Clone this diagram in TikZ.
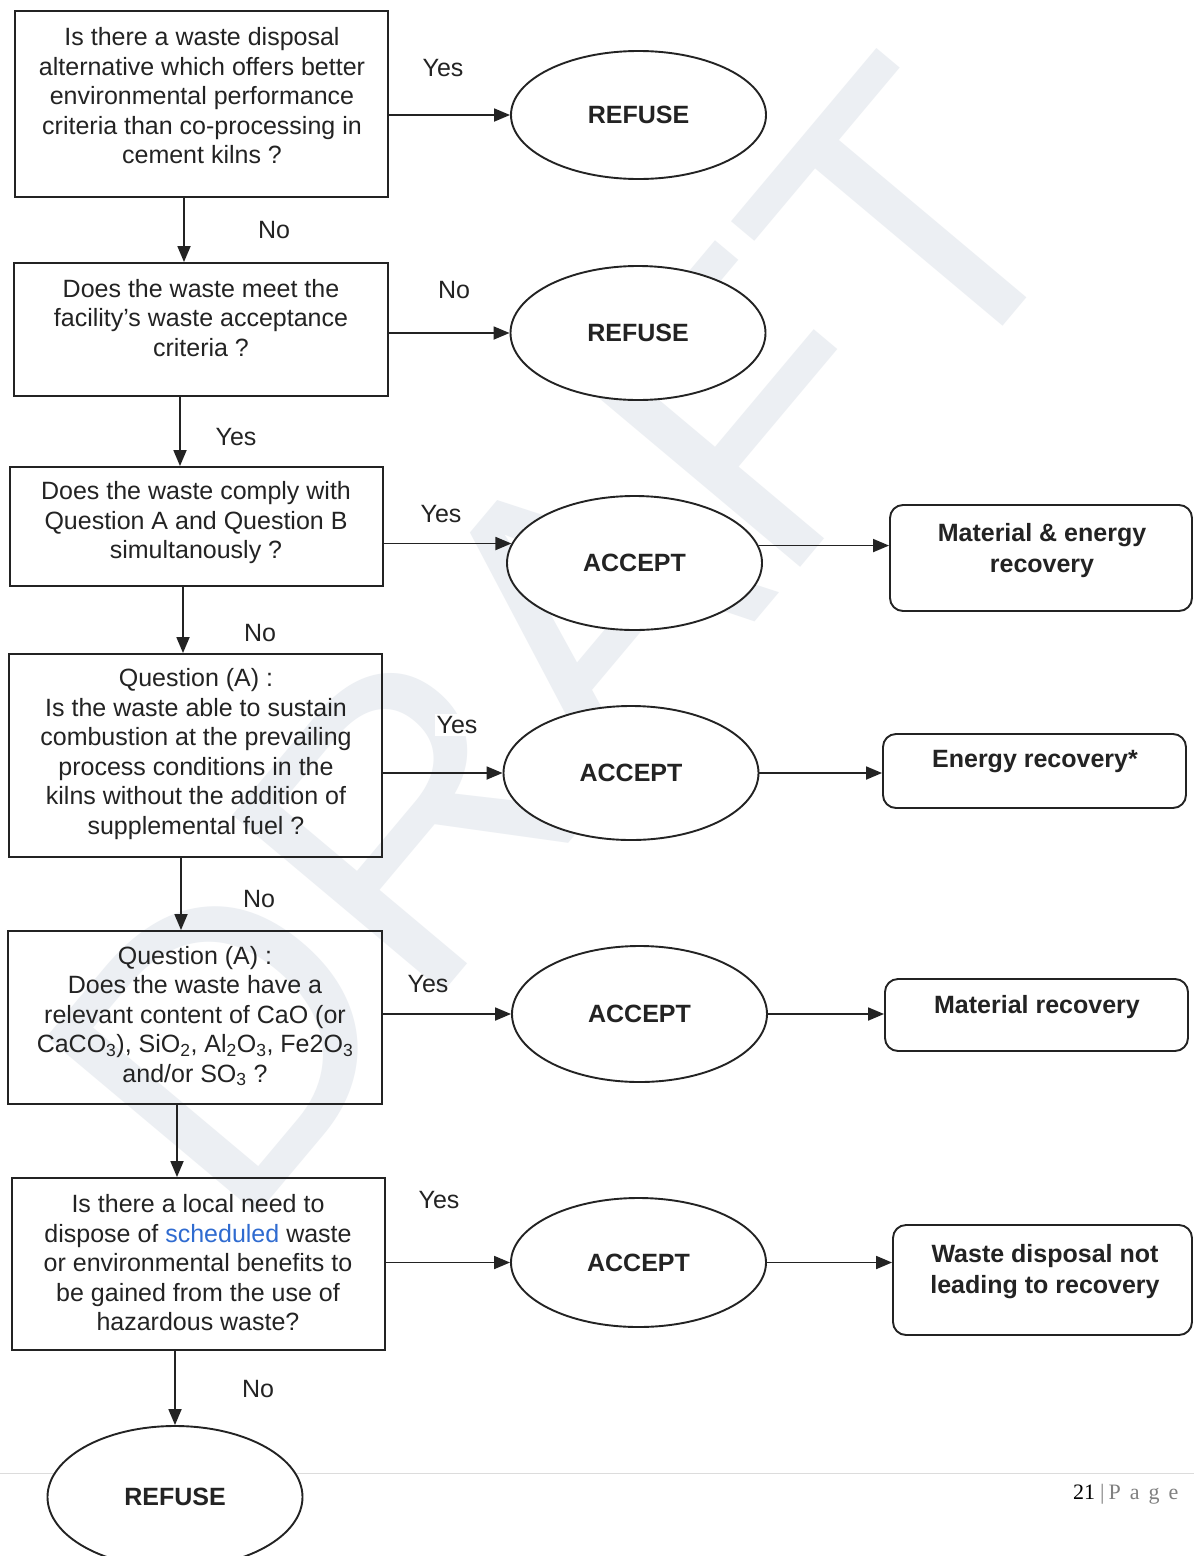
\documentclass[tikz,border=0pt]{standalone}
\usepackage{fontspec}
\setmainfont{Liberation Sans}
\newfontfamily\footfont{Liberation Serif}
\usetikzlibrary{shapes.geometric,arrows.meta,calc}
\definecolor{ink}{HTML}{232323}
\definecolor{linkblue}{HTML}{2F6BD0}
\definecolor{wm}{HTML}{ECEFF3}
\definecolor{footgray}{HTML}{808080}
\definecolor{footline}{HTML}{DCDCDC}
\begin{document}
\begin{tikzpicture}[x=1pt,y=-1pt,
  qbox/.style={draw=ink, line width=1.9pt, rectangle, inner sep=0pt},
  qtext/.style={align=center, text=ink, font=\fontsize{25}{29.5}\selectfont, inner sep=0pt},
  oval/.style={draw=ink, line width=1.9pt, ellipse, fill=white, minimum width=255pt, minimum height=132pt, inner sep=0pt, font=\fontsize{25}{30}\selectfont\bfseries, text=ink},
  outbox/.style={draw=ink, line width=1.9pt, rounded corners=13pt, rectangle, inner sep=0pt},
  outtext/.style={align=center, text=ink, font=\fontsize{25}{31}\selectfont\bfseries, inner sep=0pt},
  lbl/.style={text=ink, font=\fontsize{25}{30}\selectfont, inner sep=2pt},
  arr/.style={draw=ink, line width=1.8pt, -{Triangle[length=16pt,width=13pt]}},
]
\useasboundingbox (0,0) rectangle (1194,1556);
\fill[white] (0,0) rectangle (1194,1556);

% watermark
\node[rotate=50, text=wm, font=\fontsize{400}{400}\selectfont, inner sep=0pt] (wmk) at (560,640) {DRAFT};

% footer
\draw[footline, line width=1pt] (0,1473) -- (1194,1473);
\node[anchor=base west, inner sep=0pt, font=\footfont\fontsize{22}{24}\selectfont] (pg) at (1073,1499)
  {21\hspace{5pt}\textcolor{footgray}{|\hspace{4pt}P\hspace{9pt}a\hspace{9pt}g\hspace{9pt}e}};

% question boxes
\node[qbox, minimum width=373pt, minimum height=186pt] (b1) at (201.5,104) {};
\node[qtext] (b1t) at (202,96) {Is there a waste disposal\\alternative which offers better\\environmental performance\\criteria than co-processing in\\cement kilns ?};

\node[qbox, minimum width=374pt, minimum height=133pt] (b2) at (201,329.5) {};
\node[qtext] (b2t) at (201,318) {Does the waste meet the\\facility’s waste acceptance\\criteria ?};

\node[qbox, minimum width=373pt, minimum height=119pt] (b3) at (196.5,526.5) {};
\node[qtext] (b3t) at (196,523) {Does the waste comply with\\Question A and Question B\\simultanously ?};

\node[qbox, minimum width=373pt, minimum height=203pt] (b4) at (195.5,755.5) {};
\node[qtext] (b4t) at (196,754) {Question (A) :\\Is the waste able to sustain\\combustion at the prevailing\\process conditions in the\\kilns without the addition of\\supplemental fuel ?};

\node[qbox, minimum width=374pt, minimum height=173pt] (b5) at (195,1017.5) {};
\node[qtext] (b5t) at (195,1016) {Question (A) :\\Does the waste have a\\relevant content of CaO (or\\CaCO\textsubscript{3}), SiO\textsubscript{2}, Al\textsubscript{2}O\textsubscript{3}, Fe2O\textsubscript{3}\\and/or SO\textsubscript{3} ?};

\node[qbox, minimum width=373pt, minimum height=172pt] (b6) at (198.5,1264) {};
\node[qtext] (b6t) at (198,1263) {Is there a local need to\\dispose of \textcolor{linkblue}{scheduled} waste\\or environmental benefits to\\be gained from the use of\\hazardous waste?};

% ellipses
\node[oval, minimum height=128pt] (e1) at (638.5,115) {REFUSE};
\node[oval, minimum height=134pt] (e2) at (638,333) {REFUSE};
\node[oval, minimum height=134pt] (e3) at (634.5,563) {ACCEPT};
\node[oval, minimum height=134pt] (e4) at (631,773) {ACCEPT};
\node[oval, minimum height=136pt] (e5) at (639.5,1014) {ACCEPT};
\node[oval, minimum height=129pt] (e6) at (638.5,1262.5) {ACCEPT};
\node[oval, minimum height=142pt] (e7) at (175,1497) {REFUSE};

% outcome boxes
\node[outbox, minimum width=302pt, minimum height=106pt] (r1) at (1041,558) {};
\node[outtext] (r1t) at (1042,550.5) {Material \& energy\\recovery};
\node[outbox, minimum width=303pt, minimum height=74pt] (r2) at (1034.5,771) {};
\node[outtext] (r2t) at (1035,762) {Energy recovery*};
\node[outbox, minimum width=303pt, minimum height=72pt] (r3) at (1036.5,1015) {};
\node[outtext] (r3t) at (1037,1007) {Material recovery};
\node[outbox, minimum width=299pt, minimum height=110pt] (r4) at (1042.5,1280) {};
\node[outtext] (r4t) at (1045,1271.5) {Waste disposal not\\leading to recovery};

% horizontal connectors
\draw[arr] (b1.east |- e1.west) -- (e1.west);
\draw[arr] (b2.east |- e2.west) -- (e2.west);
\draw[arr] (b3.east |- e3.171.7) -- (e3.171.7);
\draw[arr] (e3.8.5) -- (r1.west |- e3.8.5);
\draw[arr] (b4.east |- e4.west) -- (e4.west);
\draw[arr] (e4.east) -- (r2.west |- e4.east);
\draw[arr] (b5.east |- e5.west) -- (e5.west);
\draw[arr] (e5.east) -- (r3.west |- e5.east);
\draw[arr] (b6.east |- e6.west) -- (e6.west);
\draw[arr] (e6.east) -- (r4.west |- e6.east);

% vertical connectors
\draw[arr] ([xshift=-17.5pt]b1.south) -- ([xshift=-17.5pt]b1.south |- b2.north);
\draw[arr] ([xshift=-21pt]b2.south) -- ([xshift=-21pt]b2.south |- b3.north);
\draw[arr] ([xshift=-13.5pt]b3.south) -- ([xshift=-13.5pt]b3.south |- b4.north);
\draw[arr] ([xshift=-14.5pt]b4.south) -- ([xshift=-14.5pt]b4.south |- b5.north);
\draw[arr] ([xshift=-18pt]b5.south) -- ([xshift=-18pt]b5.south |- b6.north);
\draw[arr] (b6.south -| e7.north) -- (e7.north);

% labels
\node[lbl] (l1) at (443,68) {Yes};
\node[lbl] (l2) at (274,230) {No};
\node[lbl] (l3) at (454,290) {No};
\node[lbl] (l4) at (236,437) {Yes};
\node[lbl] (l5) at (441,514) {Yes};
\node[lbl, fill=white] (l6) at (260,633) {No};
\node[lbl, fill=white] (l7) at (457,725) {Yes};
\node[lbl] (l8) at (259,899) {No};
\node[lbl] (l9) at (428,984) {Yes};
\node[lbl] (l10) at (439,1200) {Yes};
\node[lbl] (l11) at (258,1389) {No};
\end{tikzpicture}
\end{document}
